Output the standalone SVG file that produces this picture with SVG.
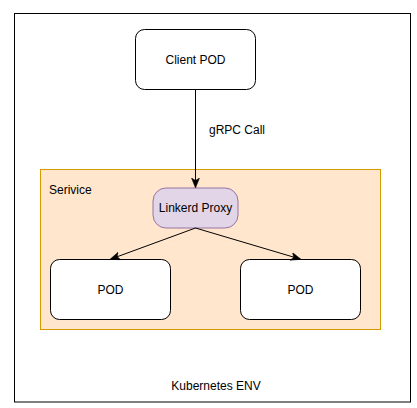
<svg xmlns="http://www.w3.org/2000/svg" width="417" height="408" viewBox="0 0 417 408">
<style>
text{font-family:"Liberation Sans",Arial,sans-serif;font-size:12px;fill:#000}
.pod{fill:#fff;stroke:#000;stroke-width:1}
.c{text-anchor:middle;dominant-baseline:central}
.edge{fill:none;stroke:#000;stroke-width:1}
</style>
<defs>
<marker id="arr" viewBox="0 0 10 10" refX="9" refY="5" markerWidth="10" markerHeight="10" markerUnits="userSpaceOnUse" orient="auto">
<path d="M0,1 L10,5 L0,9 L2.5,5 Z" fill="#000" stroke="#000" stroke-width="0.5"/>
</marker>
</defs>
<rect width="417" height="408" fill="#fff"/>
<g id="env">
<rect x="14.5" y="13.5" width="396" height="388.5" fill="#fff" stroke="#000"/>
<text class="c" x="216" y="385.5">Kubernetes ENV</text>
</g>
<g id="service">
<rect x="40.5" y="169.5" width="340" height="160" fill="#ffe6cc" stroke="#d79b00"/>
<text x="49" y="193.5">Serivice</text>
</g>
<g id="client">
<rect class="pod" x="135.5" y="29.5" width="120" height="60" rx="9"/>
<text class="c" x="195.5" y="59.5">Client POD</text>
</g>
<g id="proxy">
<rect x="153" y="188" width="85" height="40" rx="13" fill="#e1d5e7" stroke="#9673a6"/>
<text class="c" x="195.5" y="208">Linkerd Proxy</text>
</g>
<g id="pod1">
<rect class="pod" x="50.5" y="259.5" width="120" height="60" rx="9"/>
<text class="c" x="110.5" y="289.5">POD</text>
</g>
<g id="pod2">
<rect class="pod" x="240.5" y="259.5" width="120" height="60" rx="9"/>
<text class="c" x="300.5" y="289.5">POD</text>
</g>
<g id="connectors">
<line class="edge" x1="195.5" y1="89.5" x2="195.5" y2="187" marker-end="url(#arr)"/>
<text x="209" y="134">gRPC Call</text>
<line class="edge" x1="195.5" y1="228" x2="111" y2="259" marker-end="url(#arr)"/>
<line class="edge" x1="195.5" y1="228" x2="300" y2="259" marker-end="url(#arr)"/>
</g>
</svg>
